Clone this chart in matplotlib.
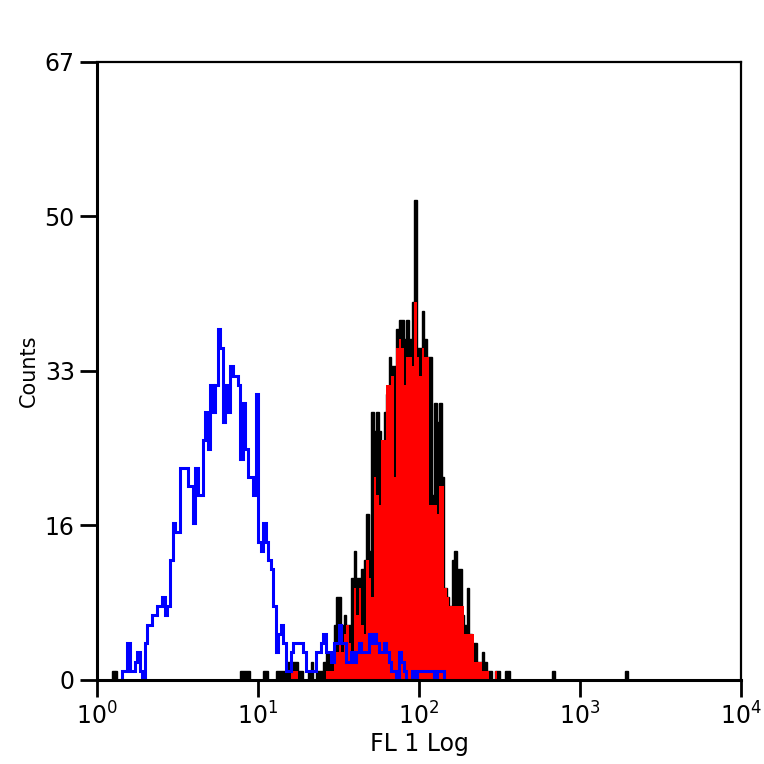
import numpy as np
import matplotlib
matplotlib.use("Agg")
import matplotlib.pyplot as plt

# 256 log channels over 4 decades
n_channels = 256
decades = 4

# isotype control (blue outline)
blue_start = 8
blue_counts = [0, 0, 1, 1, 4, 1, 1, 2, 3, 1, 0, 4, 6, 6, 7, 7, 8, 8, 9, 7,
               8, 13, 17, 16, 16, 23, 23, 23, 21, 21, 17, 23, 20, 20, 26, 29, 25, 32, 29, 32,
               38, 36, 28, 32, 29, 34, 33, 33, 32, 24, 30, 25, 22, 22, 20, 31, 15, 14, 17, 15,
               13, 12, 8, 3, 5, 6, 4, 1, 1, 3, 4, 4, 4, 4, 3, 1, 1, 1, 1, 3,
               3, 4, 5, 3, 3, 2, 4, 4, 6, 4, 4, 2, 2, 3, 2, 3, 4, 3, 3, 3,
               5, 4, 5, 4, 3, 3, 4, 3, 2, 1, 1, 0, 3, 2, 1, 0, 0, 1, 0, 1,
               1, 1, 1, 1, 1, 1, 0, 1, 1, 1]

# stained sample, raw (black)
black_start = 56
black_counts = [0, 1, 1, 1, 1, 0, 0, 0, 0, 0, 1, 1, 0, 0, 0, 1, 1, 1, 1, 2,
                2, 2, 2, 2, 1, 1, 0, 0, 1, 2, 0, 1, 1, 1, 2, 3, 3, 3, 6, 9,
                9, 6, 7, 6, 6, 11, 14, 11, 11, 12, 13, 18, 14, 29, 27, 29, 27, 24, 29, 31,
                35, 34, 34, 38, 39, 39, 37, 39, 37, 41, 52, 36, 36, 40, 37, 35, 35, 20, 30, 28,
                30, 22, 10, 9, 8, 13, 14, 12, 12, 7, 6, 10, 5, 4, 4, 2, 2, 3, 2, 1,
                1, 0, 1, 1, 0, 0, 1, 1, 0]
black_extra_channels = [6, 7, 181, 210]
black_extra_counts = [1, 1, 1, 1]

# stained sample, filled (red)
red_start = 76
red_counts = [0, 1, 1, 1, 0, 0, 0, 0, 0, 0, 0, 0, 0, 0, 0, 1, 1, 1, 2, 3,
              4, 3, 5, 6, 4, 3, 10, 7, 10, 6, 5, 13, 11, 9, 22, 20, 19, 26, 26, 32,
              32, 33, 22, 36, 37, 36, 32, 35, 35, 34, 41, 35, 33, 36, 35, 35, 19, 19, 19, 18,
              21, 21, 10, 9, 8, 8, 8, 8, 8, 8, 5, 5, 5, 5, 2, 2, 2, 1, 1, 1,
              0, 0, 1, 0]

y_ticks = [0, 16.75, 33.5, 50.25, 67]
y_tick_labels = ["0", "16", "33", "50", "67"]
x_ticks = [1, 10, 100, 1000, 10000]
x_tick_labels = ["$10^{0}$", "$10^{1}$", "$10^{2}$", "$10^{3}$", "$10^{4}$"]


def channel_edges(start, count):
    ch = start + np.arange(count + 1)
    return 10 ** (decades * ch / n_channels)


fig = plt.figure(figsize=(7.64, 7.64), dpi=100)
ax = fig.add_axes([0.127, 0.110, 0.843, 0.809])
ax.set_xscale("log")

ax.stairs(black_counts, channel_edges(black_start, len(black_counts)),
          fill=True, facecolor="black", edgecolor="black", linewidth=1.0)
for ch, c in zip(black_extra_channels, black_extra_counts):
    ax.stairs([c], channel_edges(ch, 1), fill=True, facecolor="black",
              edgecolor="black", linewidth=1.0)
ax.stairs(red_counts, channel_edges(red_start, len(red_counts)),
          fill=True, facecolor="#ff0000", linewidth=0)
ax.stairs(blue_counts, channel_edges(blue_start, len(blue_counts)),
          fill=False, color="#0000ff", linewidth=2.2)

ax.set_xlim(1, 10000)
ax.set_ylim(0, 67)
ax.set_xticks(x_ticks)
ax.set_xticklabels(x_tick_labels)
ax.xaxis.set_minor_locator(matplotlib.ticker.NullLocator())
ax.set_yticks(y_ticks)
ax.set_yticklabels(y_tick_labels)

ax.tick_params(axis="both", direction="out", length=12, width=2, labelsize=17,
               color="black", pad=4)
for side in ["left", "bottom"]:
    ax.spines[side].set_linewidth(2.2)
for side in ["top", "right"]:
    ax.spines[side].set_linewidth(1.6)

ax.set_xlabel("FL 1 Log", fontsize=17, labelpad=2)
ax.set_ylabel("Counts", fontsize=15, labelpad=4)

fig.savefig("out.png", dpi=100)
